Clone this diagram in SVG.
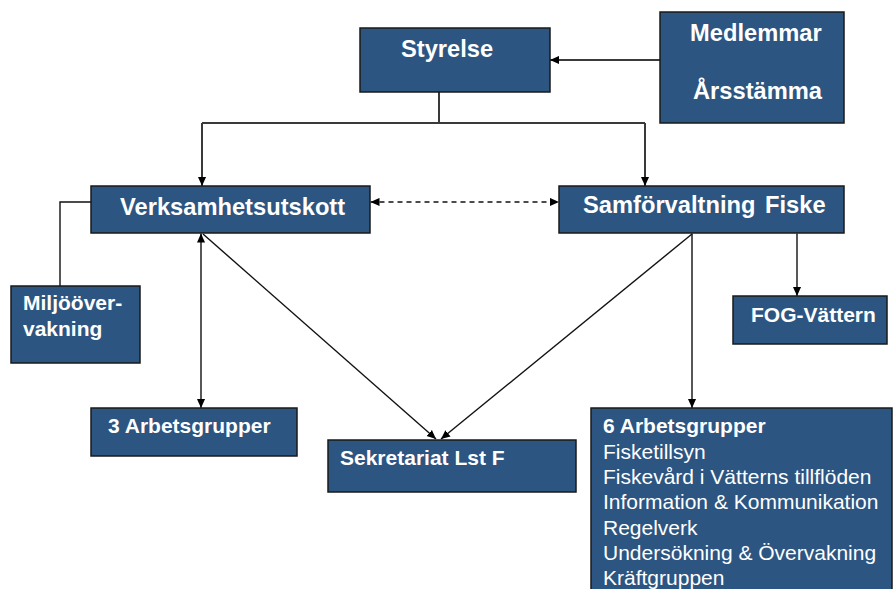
<svg xmlns="http://www.w3.org/2000/svg" width="894" height="589" viewBox="0 0 894 589">
<style>
.box{fill:#2C5581;stroke:#1a1a1a;stroke-width:1.5}
.t{font-family:"Liberation Sans",Arial,sans-serif;fill:#ffffff}
.b{font-weight:bold}
.lg{font-size:23.7px}
.sm{font-size:21px}
.ln{fill:none;stroke:#111;stroke-width:1.4}
.tree{fill:none;stroke:#3a3a3a;stroke-width:2}
</style>
<defs>
<marker id="ah" viewBox="0 0 10 10" refX="10" refY="5" markerWidth="9" markerHeight="9" markerUnits="userSpaceOnUse" orient="auto-start-reverse">
<path d="M0,0.5 L10,5 L0,9.5 Z" fill="#000"/>
</marker>
</defs>
<rect width="894" height="589" fill="#ffffff"/>
<g id="connectors">
<path class="tree" d="M439,92 V123"/>
<path class="tree" d="M202,123 H645"/>
<path class="tree" d="M202,123 V186" marker-end="url(#ah)"/>
<path class="tree" d="M645,123 V186" marker-end="url(#ah)"/>
<path class="tree" d="M660,60 H550" marker-end="url(#ah)"/>
<path class="ln" d="M91,202 H60 V286"/>
<path class="ln" d="M201,233.5 V408" marker-start="url(#ah)" marker-end="url(#ah)"/>
<path class="ln" d="M370.5,202 H559" stroke-dasharray="5,4" marker-start="url(#ah)" marker-end="url(#ah)"/>
<path class="ln" d="M203,234 L436,439" marker-end="url(#ah)"/>
<path class="ln" d="M692,234 L441,439" marker-end="url(#ah)"/>
<path class="ln" d="M797,233.5 V296" marker-end="url(#ah)"/>
<path class="ln" d="M692,233.5 V408" marker-end="url(#ah)"/>
</g>
<g id="styrelse">
<rect class="box" x="360" y="28" width="190" height="64"/>
<text class="t b lg" x="401" y="57">Styrelse</text>
</g>
<g id="medlemmar">
<rect class="box" x="660" y="12" width="184" height="111"/>
<text class="t b lg" x="690" y="41">Medlemmar</text>
<text class="t b lg" x="693" y="99">Årsstämma</text>
</g>
<g id="verksamhetsutskott">
<rect class="box" x="91" y="186" width="279" height="47"/>
<text class="t b lg" x="120" y="215">Verksamhetsutskott</text>
</g>
<g id="samforvaltning">
<rect class="box" x="559" y="186" width="285" height="47"/>
<text class="t b lg" x="583" y="213" word-spacing="3">Samförvaltning Fiske</text>
</g>
<g id="miljoovervakning">
<rect class="box" x="11" y="286" width="129" height="77"/>
<text class="t b sm" x="23" y="310">Miljööver-</text>
<text class="t b sm" x="23" y="336">vakning</text>
</g>
<g id="fog-vattern">
<rect class="box" x="733" y="296" width="154" height="48"/>
<text class="t b sm" x="751" y="322">FOG-Vättern</text>
</g>
<g id="arbetsgrupper3">
<rect class="box" x="91" y="408" width="206" height="48"/>
<text class="t b sm" x="108" y="433">3 Arbetsgrupper</text>
</g>
<g id="sekretariat">
<rect class="box" x="328" y="440" width="248" height="52"/>
<text class="t b sm" x="340" y="465">Sekretariat Lst F</text>
</g>
<g id="arbetsgrupper6">
<rect class="box" x="591" y="408" width="301" height="200"/>
<text class="t b sm" x="603" y="433">6 Arbetsgrupper</text>
<text class="t sm" x="603" y="459">Fisketillsyn</text>
<text class="t sm" x="603" y="484">Fiskevård i Vätterns tillflöden</text>
<text class="t sm" x="603" y="509">Information &amp; Kommunikation</text>
<text class="t sm" x="603" y="535">Regelverk</text>
<text class="t sm" x="603" y="560">Undersökning &amp; Övervakning</text>
<text class="t sm" x="603" y="585">Kräftgruppen</text>
</g>
</svg>
